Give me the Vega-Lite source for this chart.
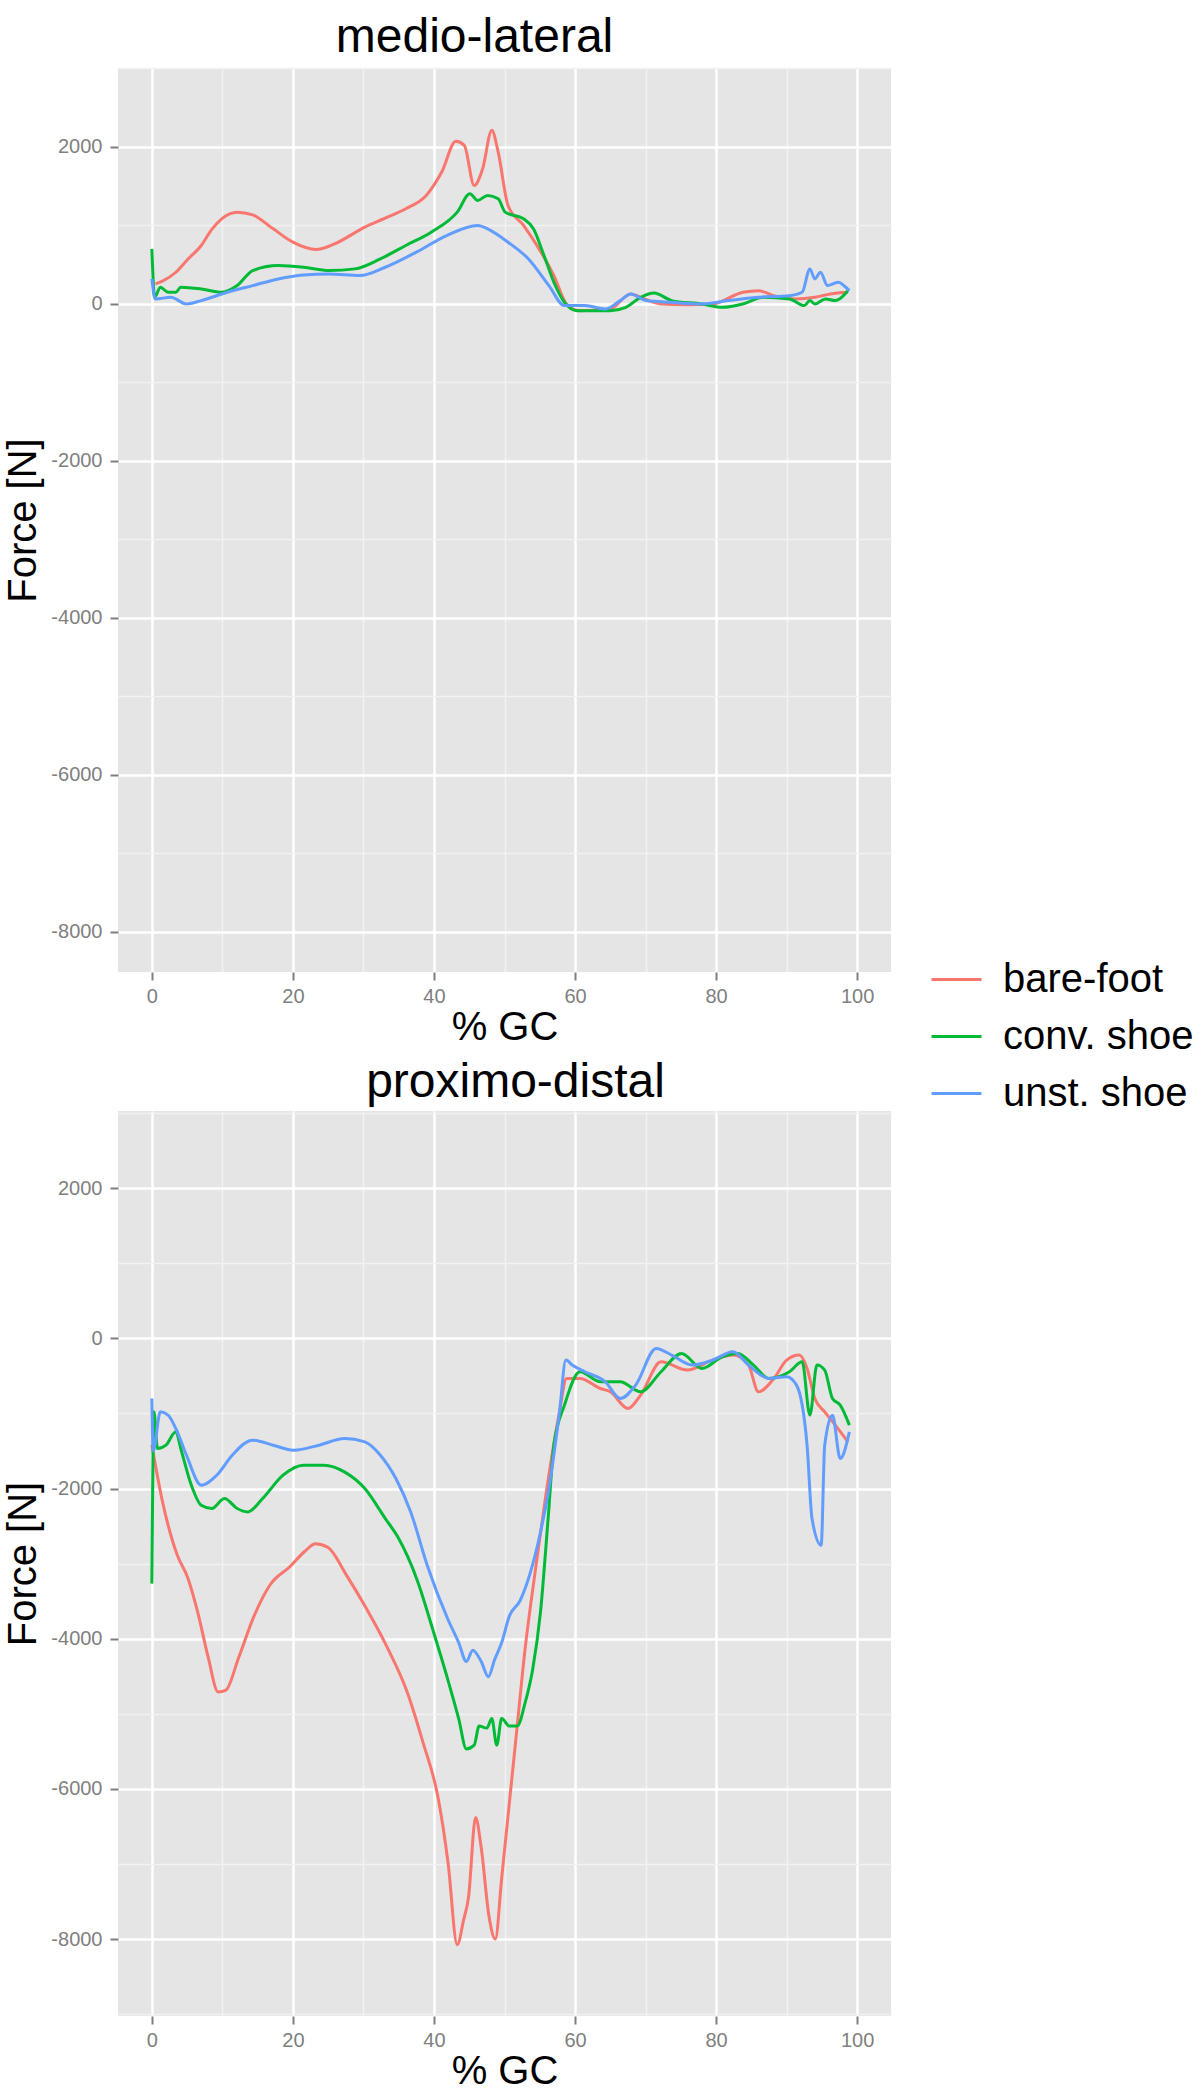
{
  "$schema": "https://vega.github.io/schema/vega-lite/v6.json",
  "background": "white",
  "padding": {"left": 3, "top": 14, "right": 0, "bottom": 0},
  "datasets": {
    "ml": [
      {"gc":0.5,"force":255,"cond":"bare-foot"},{"gc":1.5,"force":290,"cond":"bare-foot"},{"gc":3.4,"force":404,"cond":"bare-foot"},{"gc":5,"force":560,"cond":"bare-foot"},{"gc":7,"force":745,"cond":"bare-foot"},{"gc":8.5,"force":950,"cond":"bare-foot"},{"gc":9.9,"force":1085,"cond":"bare-foot"},{"gc":12.1,"force":1170,"cond":"bare-foot"},{"gc":14.3,"force":1136,"cond":"bare-foot"},{"gc":17.2,"force":957,"cond":"bare-foot"},{"gc":20,"force":787,"cond":"bare-foot"},{"gc":23.3,"force":694,"cond":"bare-foot"},{"gc":25.9,"force":766,"cond":"bare-foot"},{"gc":30.2,"force":979,"cond":"bare-foot"},{"gc":33,"force":1090,"cond":"bare-foot"},{"gc":36,"force":1213,"cond":"bare-foot"},{"gc":38.9,"force":1383,"cond":"bare-foot"},{"gc":41.1,"force":1681,"cond":"bare-foot"},{"gc":43.1,"force":2072,"cond":"bare-foot"},{"gc":44.3,"force":2021,"cond":"bare-foot"},{"gc":45.7,"force":1510,"cond":"bare-foot"},{"gc":46.9,"force":1723,"cond":"bare-foot"},{"gc":48.2,"force":2213,"cond":"bare-foot"},{"gc":49.1,"force":1936,"cond":"bare-foot"},{"gc":50.5,"force":1255,"cond":"bare-foot"},{"gc":52.7,"force":1000,"cond":"bare-foot"},{"gc":54.9,"force":702,"cond":"bare-foot"},{"gc":57,"force":362,"cond":"bare-foot"},{"gc":58.8,"force":0,"cond":"bare-foot"},{"gc":60.7,"force":-85,"cond":"bare-foot"},{"gc":63,"force":-80,"cond":"bare-foot"},{"gc":65,"force":-64,"cond":"bare-foot"},{"gc":67.9,"force":128,"cond":"bare-foot"},{"gc":69.3,"force":85,"cond":"bare-foot"},{"gc":72.2,"force":0,"cond":"bare-foot"},{"gc":76,"force":-10,"cond":"bare-foot"},{"gc":79.5,"force":0,"cond":"bare-foot"},{"gc":83.8,"force":149,"cond":"bare-foot"},{"gc":86,"force":170,"cond":"bare-foot"},{"gc":88.2,"force":106,"cond":"bare-foot"},{"gc":91.1,"force":64,"cond":"bare-foot"},{"gc":94,"force":85,"cond":"bare-foot"},{"gc":96.2,"force":128,"cond":"bare-foot"},{"gc":98.7,"force":149,"cond":"bare-foot"},
      {"gc":0,"force":702,"cond":"conv. shoe"},{"gc":0.4,"force":85,"cond":"conv. shoe"},{"gc":1.2,"force":213,"cond":"conv. shoe"},{"gc":2.3,"force":150,"cond":"conv. shoe"},{"gc":3.4,"force":149,"cond":"conv. shoe"},{"gc":4.1,"force":213,"cond":"conv. shoe"},{"gc":7,"force":191,"cond":"conv. shoe"},{"gc":9.9,"force":149,"cond":"conv. shoe"},{"gc":12.1,"force":234,"cond":"conv. shoe"},{"gc":14.3,"force":426,"cond":"conv. shoe"},{"gc":17.9,"force":489,"cond":"conv. shoe"},{"gc":21.5,"force":468,"cond":"conv. shoe"},{"gc":25.1,"force":426,"cond":"conv. shoe"},{"gc":28.8,"force":447,"cond":"conv. shoe"},{"gc":32.4,"force":574,"cond":"conv. shoe"},{"gc":36,"force":745,"cond":"conv. shoe"},{"gc":39.6,"force":915,"cond":"conv. shoe"},{"gc":43.3,"force":1170,"cond":"conv. shoe"},{"gc":45.1,"force":1404,"cond":"conv. shoe"},{"gc":46.2,"force":1319,"cond":"conv. shoe"},{"gc":47.6,"force":1383,"cond":"conv. shoe"},{"gc":49.1,"force":1340,"cond":"conv. shoe"},{"gc":50.1,"force":1170,"cond":"conv. shoe"},{"gc":52.7,"force":1085,"cond":"conv. shoe"},{"gc":54.1,"force":957,"cond":"conv. shoe"},{"gc":55.6,"force":617,"cond":"conv. shoe"},{"gc":57,"force":277,"cond":"conv. shoe"},{"gc":58.5,"force":21,"cond":"conv. shoe"},{"gc":60.3,"force":-85,"cond":"conv. shoe"},{"gc":65,"force":-85,"cond":"conv. shoe"},{"gc":67.2,"force":-43,"cond":"conv. shoe"},{"gc":69.3,"force":85,"cond":"conv. shoe"},{"gc":71.2,"force":140,"cond":"conv. shoe"},{"gc":73.7,"force":43,"cond":"conv. shoe"},{"gc":78,"force":0,"cond":"conv. shoe"},{"gc":80.9,"force":-43,"cond":"conv. shoe"},{"gc":83.8,"force":0,"cond":"conv. shoe"},{"gc":86.7,"force":85,"cond":"conv. shoe"},{"gc":90.4,"force":64,"cond":"conv. shoe"},{"gc":92.5,"force":-21,"cond":"conv. shoe"},{"gc":93.3,"force":43,"cond":"conv. shoe"},{"gc":94,"force":0,"cond":"conv. shoe"},{"gc":95.5,"force":64,"cond":"conv. shoe"},{"gc":96.9,"force":43,"cond":"conv. shoe"},{"gc":98.7,"force":170,"cond":"conv. shoe"},
      {"gc":0,"force":319,"cond":"unst. shoe"},{"gc":0.5,"force":64,"cond":"unst. shoe"},{"gc":2.7,"force":85,"cond":"unst. shoe"},{"gc":4.9,"force":0,"cond":"unst. shoe"},{"gc":7,"force":43,"cond":"unst. shoe"},{"gc":10.7,"force":149,"cond":"unst. shoe"},{"gc":14.3,"force":234,"cond":"unst. shoe"},{"gc":17.9,"force":319,"cond":"unst. shoe"},{"gc":21.5,"force":370,"cond":"unst. shoe"},{"gc":25.1,"force":383,"cond":"unst. shoe"},{"gc":29.5,"force":362,"cond":"unst. shoe"},{"gc":33.1,"force":468,"cond":"unst. shoe"},{"gc":37.5,"force":660,"cond":"unst. shoe"},{"gc":41.8,"force":872,"cond":"unst. shoe"},{"gc":46.2,"force":1000,"cond":"unst. shoe"},{"gc":47.6,"force":957,"cond":"unst. shoe"},{"gc":50.5,"force":787,"cond":"unst. shoe"},{"gc":53.4,"force":574,"cond":"unst. shoe"},{"gc":56.3,"force":234,"cond":"unst. shoe"},{"gc":58.5,"force":-21,"cond":"unst. shoe"},{"gc":61.4,"force":-21,"cond":"unst. shoe"},{"gc":64.3,"force":-64,"cond":"unst. shoe"},{"gc":66.4,"force":43,"cond":"unst. shoe"},{"gc":67.9,"force":128,"cond":"unst. shoe"},{"gc":70.1,"force":43,"cond":"unst. shoe"},{"gc":73.7,"force":21,"cond":"unst. shoe"},{"gc":78,"force":0,"cond":"unst. shoe"},{"gc":81.7,"force":43,"cond":"unst. shoe"},{"gc":86,"force":85,"cond":"unst. shoe"},{"gc":90.4,"force":106,"cond":"unst. shoe"},{"gc":92.2,"force":149,"cond":"unst. shoe"},{"gc":93.3,"force":447,"cond":"unst. shoe"},{"gc":94,"force":319,"cond":"unst. shoe"},{"gc":94.8,"force":404,"cond":"unst. shoe"},{"gc":95.8,"force":234,"cond":"unst. shoe"},{"gc":97.3,"force":277,"cond":"unst. shoe"},{"gc":98.4,"force":213,"cond":"unst. shoe"},{"gc":98.9,"force":170,"cond":"unst. shoe"}
    ],
    "pd": [
      {"gc":0,"force":-1420,"cond":"bare-foot"},{"gc":1.4,"force":-2127,"cond":"bare-foot"},{"gc":3.6,"force":-2886,"cond":"bare-foot"},{"gc":5.1,"force":-3190,"cond":"bare-foot"},{"gc":6.5,"force":-3645,"cond":"bare-foot"},{"gc":8,"force":-4253,"cond":"bare-foot"},{"gc":9.4,"force":-4709,"cond":"bare-foot"},{"gc":10.5,"force":-4684,"cond":"bare-foot"},{"gc":12.3,"force":-4253,"cond":"bare-foot"},{"gc":14.5,"force":-3696,"cond":"bare-foot"},{"gc":16.7,"force":-3291,"cond":"bare-foot"},{"gc":19.6,"force":-3038,"cond":"bare-foot"},{"gc":21.7,"force":-2835,"cond":"bare-foot"},{"gc":23.2,"force":-2734,"cond":"bare-foot"},{"gc":25,"force":-2785,"cond":"bare-foot"},{"gc":27.5,"force":-3139,"cond":"bare-foot"},{"gc":30.4,"force":-3595,"cond":"bare-foot"},{"gc":33.3,"force":-4101,"cond":"bare-foot"},{"gc":36.2,"force":-4709,"cond":"bare-foot"},{"gc":38.4,"force":-5367,"cond":"bare-foot"},{"gc":40.6,"force":-6126,"cond":"bare-foot"},{"gc":42,"force":-6987,"cond":"bare-foot"},{"gc":43.3,"force":-8076,"cond":"bare-foot"},{"gc":44.2,"force":-7747,"cond":"bare-foot"},{"gc":44.9,"force":-7443,"cond":"bare-foot"},{"gc":45.9,"force":-6380,"cond":"bare-foot"},{"gc":46.7,"force":-6785,"cond":"bare-foot"},{"gc":47.8,"force":-7696,"cond":"bare-foot"},{"gc":48.7,"force":-8000,"cond":"bare-foot"},{"gc":49.6,"force":-7190,"cond":"bare-foot"},{"gc":50.7,"force":-6177,"cond":"bare-foot"},{"gc":51.8,"force":-5164,"cond":"bare-foot"},{"gc":52.9,"force":-4152,"cond":"bare-foot"},{"gc":54.3,"force":-3139,"cond":"bare-foot"},{"gc":55.8,"force":-2127,"cond":"bare-foot"},{"gc":57.8,"force":-978,"cond":"bare-foot"},{"gc":58.8,"force":-533,"cond":"bare-foot"},{"gc":60.7,"force":-533,"cond":"bare-foot"},{"gc":63.6,"force":-667,"cond":"bare-foot"},{"gc":65,"force":-711,"cond":"bare-foot"},{"gc":67.5,"force":-933,"cond":"bare-foot"},{"gc":69.3,"force":-755,"cond":"bare-foot"},{"gc":72.2,"force":-311,"cond":"bare-foot"},{"gc":75.9,"force":-422,"cond":"bare-foot"},{"gc":79.5,"force":-289,"cond":"bare-foot"},{"gc":82.4,"force":-222,"cond":"bare-foot"},{"gc":84.6,"force":-355,"cond":"bare-foot"},{"gc":86,"force":-711,"cond":"bare-foot"},{"gc":88.2,"force":-533,"cond":"bare-foot"},{"gc":90,"force":-289,"cond":"bare-foot"},{"gc":91.8,"force":-222,"cond":"bare-foot"},{"gc":92.9,"force":-400,"cond":"bare-foot"},{"gc":94,"force":-800,"cond":"bare-foot"},{"gc":95.4,"force":-978,"cond":"bare-foot"},{"gc":96.9,"force":-1155,"cond":"bare-foot"},{"gc":98.7,"force":-1378,"cond":"bare-foot"},
      {"gc":0,"force":-3266,"cond":"conv. shoe"},{"gc":0.3,"force":-978,"cond":"conv. shoe"},{"gc":0.8,"force":-1467,"cond":"conv. shoe"},{"gc":2,"force":-1422,"cond":"conv. shoe"},{"gc":3.4,"force":-1244,"cond":"conv. shoe"},{"gc":4.1,"force":-1467,"cond":"conv. shoe"},{"gc":5.6,"force":-1955,"cond":"conv. shoe"},{"gc":7,"force":-2222,"cond":"conv. shoe"},{"gc":8.5,"force":-2266,"cond":"conv. shoe"},{"gc":10.3,"force":-2133,"cond":"conv. shoe"},{"gc":12.1,"force":-2266,"cond":"conv. shoe"},{"gc":13.6,"force":-2311,"cond":"conv. shoe"},{"gc":15.7,"force":-2133,"cond":"conv. shoe"},{"gc":18.6,"force":-1822,"cond":"conv. shoe"},{"gc":21.5,"force":-1689,"cond":"conv. shoe"},{"gc":24.4,"force":-1689,"cond":"conv. shoe"},{"gc":27.3,"force":-1778,"cond":"conv. shoe"},{"gc":30.2,"force":-2000,"cond":"conv. shoe"},{"gc":33.1,"force":-2400,"cond":"conv. shoe"},{"gc":34.8,"force":-2633,"cond":"conv. shoe"},{"gc":37.7,"force":-3240,"cond":"conv. shoe"},{"gc":39.9,"force":-3899,"cond":"conv. shoe"},{"gc":42,"force":-4557,"cond":"conv. shoe"},{"gc":43.5,"force":-5063,"cond":"conv. shoe"},{"gc":44.6,"force":-5468,"cond":"conv. shoe"},{"gc":45.7,"force":-5418,"cond":"conv. shoe"},{"gc":46.4,"force":-5164,"cond":"conv. shoe"},{"gc":47.5,"force":-5190,"cond":"conv. shoe"},{"gc":48.2,"force":-5063,"cond":"conv. shoe"},{"gc":48.9,"force":-5418,"cond":"conv. shoe"},{"gc":49.6,"force":-5063,"cond":"conv. shoe"},{"gc":50.7,"force":-5164,"cond":"conv. shoe"},{"gc":51.8,"force":-5164,"cond":"conv. shoe"},{"gc":52.9,"force":-4861,"cond":"conv. shoe"},{"gc":54,"force":-4405,"cond":"conv. shoe"},{"gc":55.1,"force":-3646,"cond":"conv. shoe"},{"gc":56.2,"force":-2380,"cond":"conv. shoe"},{"gc":57,"force":-1422,"cond":"conv. shoe"},{"gc":58.5,"force":-889,"cond":"conv. shoe"},{"gc":60.7,"force":-444,"cond":"conv. shoe"},{"gc":63.6,"force":-578,"cond":"conv. shoe"},{"gc":66.4,"force":-578,"cond":"conv. shoe"},{"gc":69.3,"force":-711,"cond":"conv. shoe"},{"gc":72.2,"force":-444,"cond":"conv. shoe"},{"gc":75.1,"force":-200,"cond":"conv. shoe"},{"gc":78,"force":-400,"cond":"conv. shoe"},{"gc":80.9,"force":-244,"cond":"conv. shoe"},{"gc":83.1,"force":-200,"cond":"conv. shoe"},{"gc":85.3,"force":-355,"cond":"conv. shoe"},{"gc":87.5,"force":-533,"cond":"conv. shoe"},{"gc":90.4,"force":-444,"cond":"conv. shoe"},{"gc":92.2,"force":-311,"cond":"conv. shoe"},{"gc":93.3,"force":-1022,"cond":"conv. shoe"},{"gc":94.3,"force":-355,"cond":"conv. shoe"},{"gc":95.4,"force":-422,"cond":"conv. shoe"},{"gc":96.5,"force":-800,"cond":"conv. shoe"},{"gc":97.6,"force":-889,"cond":"conv. shoe"},{"gc":98.9,"force":-1155,"cond":"conv. shoe"},
      {"gc":0,"force":-800,"cond":"unst. shoe"},{"gc":0.2,"force":-1500,"cond":"unst. shoe"},{"gc":1.2,"force":-978,"cond":"unst. shoe"},{"gc":2.3,"force":-1022,"cond":"unst. shoe"},{"gc":3.4,"force":-1200,"cond":"unst. shoe"},{"gc":4.9,"force":-1555,"cond":"unst. shoe"},{"gc":7,"force":-1955,"cond":"unst. shoe"},{"gc":9.2,"force":-1822,"cond":"unst. shoe"},{"gc":11.4,"force":-1555,"cond":"unst. shoe"},{"gc":14.3,"force":-1355,"cond":"unst. shoe"},{"gc":17.2,"force":-1422,"cond":"unst. shoe"},{"gc":20.1,"force":-1489,"cond":"unst. shoe"},{"gc":23.7,"force":-1422,"cond":"unst. shoe"},{"gc":27.3,"force":-1333,"cond":"unst. shoe"},{"gc":30.2,"force":-1378,"cond":"unst. shoe"},{"gc":32.4,"force":-1555,"cond":"unst. shoe"},{"gc":34.6,"force":-1866,"cond":"unst. shoe"},{"gc":36.7,"force":-2311,"cond":"unst. shoe"},{"gc":39.1,"force":-3038,"cond":"unst. shoe"},{"gc":42,"force":-3747,"cond":"unst. shoe"},{"gc":43.5,"force":-4051,"cond":"unst. shoe"},{"gc":44.6,"force":-4304,"cond":"unst. shoe"},{"gc":45.5,"force":-4152,"cond":"unst. shoe"},{"gc":46.7,"force":-4304,"cond":"unst. shoe"},{"gc":47.7,"force":-4506,"cond":"unst. shoe"},{"gc":48.6,"force":-4278,"cond":"unst. shoe"},{"gc":49.6,"force":-4051,"cond":"unst. shoe"},{"gc":50.7,"force":-3696,"cond":"unst. shoe"},{"gc":52.2,"force":-3494,"cond":"unst. shoe"},{"gc":53.6,"force":-3139,"cond":"unst. shoe"},{"gc":55.1,"force":-2582,"cond":"unst. shoe"},{"gc":56.3,"force":-2000,"cond":"unst. shoe"},{"gc":57.8,"force":-978,"cond":"unst. shoe"},{"gc":58.7,"force":-289,"cond":"unst. shoe"},{"gc":59.6,"force":-355,"cond":"unst. shoe"},{"gc":61.4,"force":-444,"cond":"unst. shoe"},{"gc":64.3,"force":-578,"cond":"unst. shoe"},{"gc":66.4,"force":-800,"cond":"unst. shoe"},{"gc":68.6,"force":-622,"cond":"unst. shoe"},{"gc":71.5,"force":-133,"cond":"unst. shoe"},{"gc":73.7,"force":-222,"cond":"unst. shoe"},{"gc":76.6,"force":-355,"cond":"unst. shoe"},{"gc":79.5,"force":-289,"cond":"unst. shoe"},{"gc":82.4,"force":-178,"cond":"unst. shoe"},{"gc":84.6,"force":-355,"cond":"unst. shoe"},{"gc":87.5,"force":-533,"cond":"unst. shoe"},{"gc":90,"force":-511,"cond":"unst. shoe"},{"gc":91.4,"force":-622,"cond":"unst. shoe"},{"gc":92.9,"force":-1422,"cond":"unst. shoe"},{"gc":93.6,"force":-2400,"cond":"unst. shoe"},{"gc":94.9,"force":-2755,"cond":"unst. shoe"},{"gc":95.4,"force":-1422,"cond":"unst. shoe"},{"gc":96.5,"force":-1022,"cond":"unst. shoe"},{"gc":97.6,"force":-1600,"cond":"unst. shoe"},{"gc":98.9,"force":-1244,"cond":"unst. shoe"}
    ]
  },
  "config": {
    "font": "Liberation Sans",
    "view": {"fill": "#E5E5E5", "stroke": null},
    "title": {"font": "Liberation Sans", "fontSize": 48, "fontWeight": "normal", "color": "black", "anchor": "middle", "frame": "group", "baseline": "alphabetic", "offset": -4},
    "axis": {"domain": false, "tickColor": "#7F7F7F", "tickWidth": 2, "tickSize": 8, "labelColor": "#7F7F7F", "labelFont": "Liberation Sans", "labelFontSize": 20, "titleFont": "Liberation Sans", "titleFontSize": 40, "titleFontWeight": "normal", "titleColor": "black", "gridColor": "#FFFFFF", "gridWidth": 2.5, "gridOpacity": 1, "labelOverlap": false, "labelFlush": false},
    "axisX": {"labelPadding": 6, "titlePadding": 1},
    "axisY": {"labelPadding": 8, "titlePadding": 7},
    "line": {"strokeWidth": 3}
  },
  "spacing": 12,
  "resolve": {"scale": {"x": "independent", "y": "independent", "color": "shared"}, "legend": {"color": "shared"}},
  "vconcat": [
    {
      "title": {"text": "medio-lateral", "dx": -30},
      "width": 773,
      "height": 904,
      "data": {"name": "ml"},
      "mark": {"type": "line", "strokeWidth": 3, "interpolate": "monotone"},
      "encoding": {
        "x": {"field": "gc", "type": "quantitative", "scale": {"domain": [-4.8, 104.8], "nice": false, "zero": false},
          "axis": {"title": "% GC", "values": [0,10,20,30,40,50,60,70,80,90,100],
            "labelExpr": "datum.value % 20 === 0 ? datum.label : ''",
            "gridColor": {"condition": {"test": "datum.value % 20 !== 0", "value": "#F2F2F2"}, "value": "#FFFFFF"},
            "gridWidth": {"condition": {"test": "datum.value % 20 !== 0", "value": 1.5}, "value": 2.5},
            "tickOpacity": {"condition": {"test": "datum.value % 20 !== 0", "value": 0}, "value": 1}}},
        "y": {"field": "force", "type": "quantitative", "scale": {"domain": [-8510, 3006], "nice": false, "zero": false},
          "axis": {"title": "Force [N]", "values": [-8000,-7000,-6000,-5000,-4000,-3000,-2000,-1000,0,1000,2000,3000],
            "labelExpr": "datum.value % 2000 === 0 ? '' + datum.value : ''",
            "gridColor": {"condition": {"test": "datum.value % 2000 !== 0", "value": "#F2F2F2"}, "value": "#FFFFFF"},
            "gridWidth": {"condition": {"test": "datum.value % 2000 !== 0", "value": 1.5}, "value": 2.5},
            "tickOpacity": {"condition": {"test": "datum.value % 2000 !== 0", "value": 0}, "value": 1}}},
        "color": {"field": "cond", "type": "nominal",
          "scale": {"domain": ["bare-foot", "conv. shoe", "unst. shoe"], "range": ["#F8766D", "#00BA38", "#619CFF"]},
          "legend": {"title": null, "orient": "none", "legendX": 812, "legendY": 885, "symbolType": "stroke", "symbolSize": 2500, "symbolStrokeWidth": 3, "labelFontSize": 40, "labelFont": "Liberation Sans", "labelColor": "black", "labelOffset": 20, "rowPadding": 10, "padding": 0, "labelLimit": 400}}
      }
    },
    {
      "title": {"text": "proximo-distal", "dx": 11},
      "width": 773,
      "height": 905,
      "data": {"name": "pd"},
      "mark": {"type": "line", "strokeWidth": 3, "interpolate": "monotone"},
      "encoding": {
        "x": {"field": "gc", "type": "quantitative", "scale": {"domain": [-4.8, 104.8], "nice": false, "zero": false},
          "axis": {"title": "% GC", "values": [0,10,20,30,40,50,60,70,80,90,100],
            "labelExpr": "datum.value % 20 === 0 ? datum.label : ''",
            "gridColor": {"condition": {"test": "datum.value % 20 !== 0", "value": "#F2F2F2"}, "value": "#FFFFFF"},
            "gridWidth": {"condition": {"test": "datum.value % 20 !== 0", "value": 1.5}, "value": 2.5},
            "tickOpacity": {"condition": {"test": "datum.value % 20 !== 0", "value": 0}, "value": 1}}},
        "y": {"field": "force", "type": "quantitative", "scale": {"domain": [-9025, 3029], "nice": false, "zero": false},
          "axis": {"title": "Force [N]", "values": [-9000,-8000,-7000,-6000,-5000,-4000,-3000,-2000,-1000,0,1000,2000,3000],
            "labelExpr": "datum.value % 2000 === 0 ? '' + datum.value : ''",
            "gridColor": {"condition": {"test": "datum.value % 2000 !== 0", "value": "#F2F2F2"}, "value": "#FFFFFF"},
            "gridWidth": {"condition": {"test": "datum.value % 2000 !== 0", "value": 1.5}, "value": 2.5},
            "tickOpacity": {"condition": {"test": "datum.value % 2000 !== 0", "value": 0}, "value": 1}}},
        "color": {"field": "cond", "type": "nominal",
          "scale": {"domain": ["bare-foot", "conv. shoe", "unst. shoe"], "range": ["#F8766D", "#00BA38", "#619CFF"]},
          "legend": {"title": null, "orient": "none", "legendX": 812, "legendY": 885, "symbolType": "stroke", "symbolSize": 2500, "symbolStrokeWidth": 3, "labelFontSize": 40, "labelFont": "Liberation Sans", "labelColor": "black", "labelOffset": 20, "rowPadding": 10, "padding": 0, "labelLimit": 400}}
      }
    }
  ]
}
